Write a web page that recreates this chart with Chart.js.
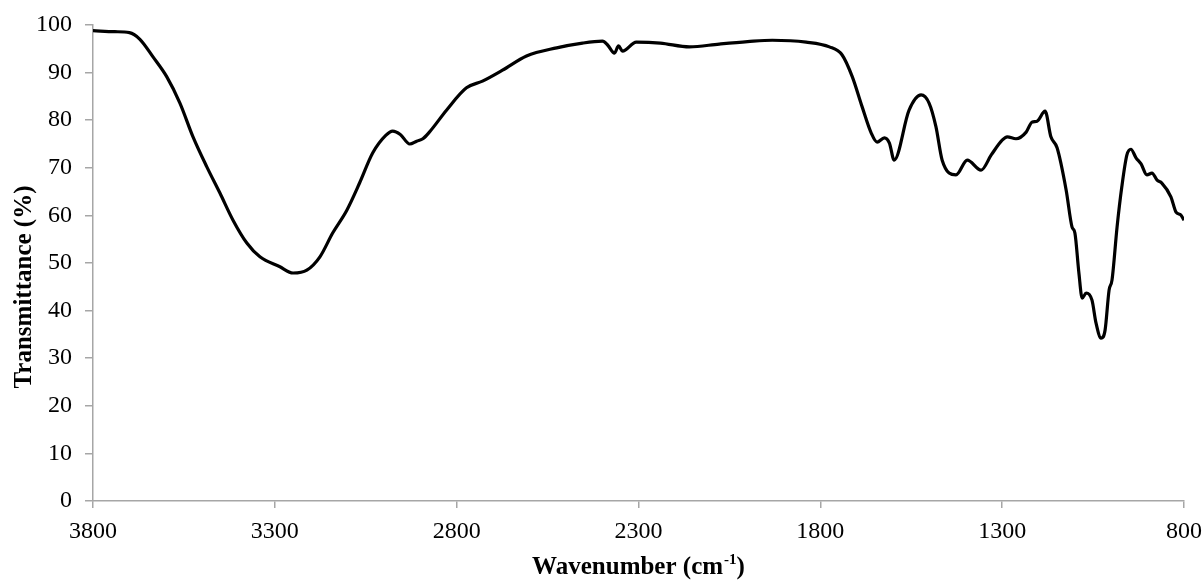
<!DOCTYPE html>
<html>
<head>
<meta charset="utf-8">
<script src="https://cdn.jsdelivr.net/npm/chart.js@4.4.1/dist/chart.umd.min.js"></script>
<style>
  html, body { margin: 0; padding: 0; background: #fff; }
  #wrap { width: 1204px; height: 582px; }
</style>
</head>
<body>
<div id="wrap"><canvas id="ftir"></canvas></div>
<script>
// FTIR spectrum, wavenumber (cm-1) vs transmittance (%)
var wavenumbers = [
  3800, 3740, 3700, 3671, 3635, 3597, 3561, 3525, 3487, 3451,
  3415, 3377, 3341, 3286, 3250, 3212, 3176, 3141, 3102, 3067,
  3031, 2995, 2976, 2955, 2929, 2910, 2893, 2875, 2828, 2773,
  2729, 2674, 2608, 2525, 2454, 2399, 2385, 2366, 2355, 2344,
  2306, 2240, 2160, 2078, 2000, 1932, 1839, 1775, 1740, 1712,
  1685, 1660, 1644, 1624, 1610, 1597, 1556, 1523, 1501, 1482,
  1465, 1427, 1396, 1358, 1330, 1300, 1286, 1262, 1234, 1218,
  1204, 1182, 1166, 1149, 1124, 1108, 1100, 1089, 1080, 1069,
  1053, 1042, 1028, 1017, 1006, 998, 984, 971, 957, 946,
  932, 918, 902, 888, 874, 861, 836, 822, 809, 800
];
var transmittance = [
  98.8, 98.6, 98.4, 97.0, 93.3, 89.1, 83.6, 76.5, 70.2, 64.7,
  59.0, 54.2, 51.3, 49.2, 47.9, 48.5, 51.3, 56.3, 61.1, 66.8,
  73.1, 76.8, 77.7, 77.0, 75.0, 75.6, 76.1, 77.5, 82.1, 86.8,
  88.2, 90.5, 93.5, 95.2, 96.2, 96.6, 95.8, 94.1, 95.6, 94.5,
  96.4, 96.2, 95.4, 96.0, 96.5, 96.8, 96.4, 95.4, 93.7, 89.1,
  82.8, 77.3, 75.4, 76.3, 75.2, 71.6, 82.1, 85.3, 83.6, 78.6,
  71.6, 68.5, 71.6, 69.5, 72.7, 75.8, 76.5, 76.1, 77.5, 79.6,
  79.8, 81.9, 76.5, 74.2, 65.3, 57.6, 56.3, 47.9, 42.6, 43.7,
  42.2, 37.4, 34.2, 35.9, 44.3, 46.4, 57.6, 66.0, 72.7, 73.9,
  72.1, 70.8, 68.5, 68.9, 67.4, 66.8, 63.9, 60.7, 60.1, 59.0
];
var xTitle = 'Wavenumber (cm';
var xTitleSup = '-1';
var yTitle = 'Transmittance (%)';

var serif = "'Liberation Serif', 'Times New Roman', serif";
var axisGrey = '#a6a6a6';

var points = wavenumbers.map(function (w, i) {
  return { x: w, y: transmittance[i] };
});

// axis titles drawn by hand so the superscript in cm-1 can be raised
var axisTitles = {
  id: 'axisTitles',
  afterDraw: function (chart) {
    var ctx = chart.ctx;
    var area = chart.chartArea;
    ctx.save();
    ctx.fillStyle = '#000';
    ctx.textBaseline = 'alphabetic';

    var big = 'bold 25px ' + serif;
    var small = 'bold 15px ' + serif;
    ctx.font = big;
    var w1 = ctx.measureText(xTitle).width;
    var w3 = ctx.measureText(')').width;
    ctx.font = small;
    var w2 = ctx.measureText(xTitleSup).width;
    var total = w1 + w2 + w3 + 1;
    var x0 = (area.left + area.right) / 2 - total / 2;
    var base = 574;
    ctx.font = big;
    ctx.fillText(xTitle, x0, base);
    ctx.font = small;
    ctx.fillText(xTitleSup, x0 + w1 + 1, base - 10);
    ctx.font = big;
    ctx.fillText(')', x0 + w1 + w2 + 1, base);

    ctx.translate(31, 287);
    ctx.rotate(-Math.PI / 2);
    ctx.textAlign = 'center';
    ctx.font = big;
    ctx.fillText(yTitle, 0, 0);
    ctx.restore();
  }
};

new Chart(document.getElementById('ftir'), {
  type: 'line',
  data: {
    datasets: [{
      data: points,
      borderColor: '#000',
      borderWidth: 3.2,
      pointRadius: 0,
      fill: false,
      cubicInterpolationMode: 'monotone'
    }]
  },
  options: {
    responsive: true,
    maintainAspectRatio: false,
    animation: false,
    layout: { padding: { top: 25, right: 20, left: 0, bottom: 0 } },
    plugins: {
      legend: { display: false },
      tooltip: { enabled: false }
    },
    scales: {
      x: {
        type: 'linear',
        min: 800,
        max: 3800,
        reverse: true,
        afterFit: function (axis) {
          axis.height = 81;
          axis.paddingLeft = 0;
          axis.paddingRight = 0;
        },
        ticks: {
          stepSize: 500,
          color: '#000',
          padding: 9,
          maxRotation: 0,
          font: { family: serif, size: 24 },
          callback: function (v) { return String(v); }
        },
        grid: { drawOnChartArea: false, drawTicks: true, tickLength: 7, color: axisGrey, lineWidth: 1.5 },
        border: { color: axisGrey, width: 1.5 }
      },
      y: {
        min: 0,
        max: 100,
        afterFit: function (axis) {
          axis.width = 93;
          axis.paddingTop = 0;
          axis.paddingBottom = 0;
        },
        ticks: {
          stepSize: 10,
          color: '#000',
          padding: 13,
          font: { family: serif, size: 24 },
          callback: function (v) { return String(v); }
        },
        grid: { drawOnChartArea: false, drawTicks: true, tickLength: 8, color: axisGrey, lineWidth: 1.5 },
        border: { color: axisGrey, width: 1.5 }
      }
    }
  },
  plugins: [axisTitles]
});
</script>
</body>
</html>
